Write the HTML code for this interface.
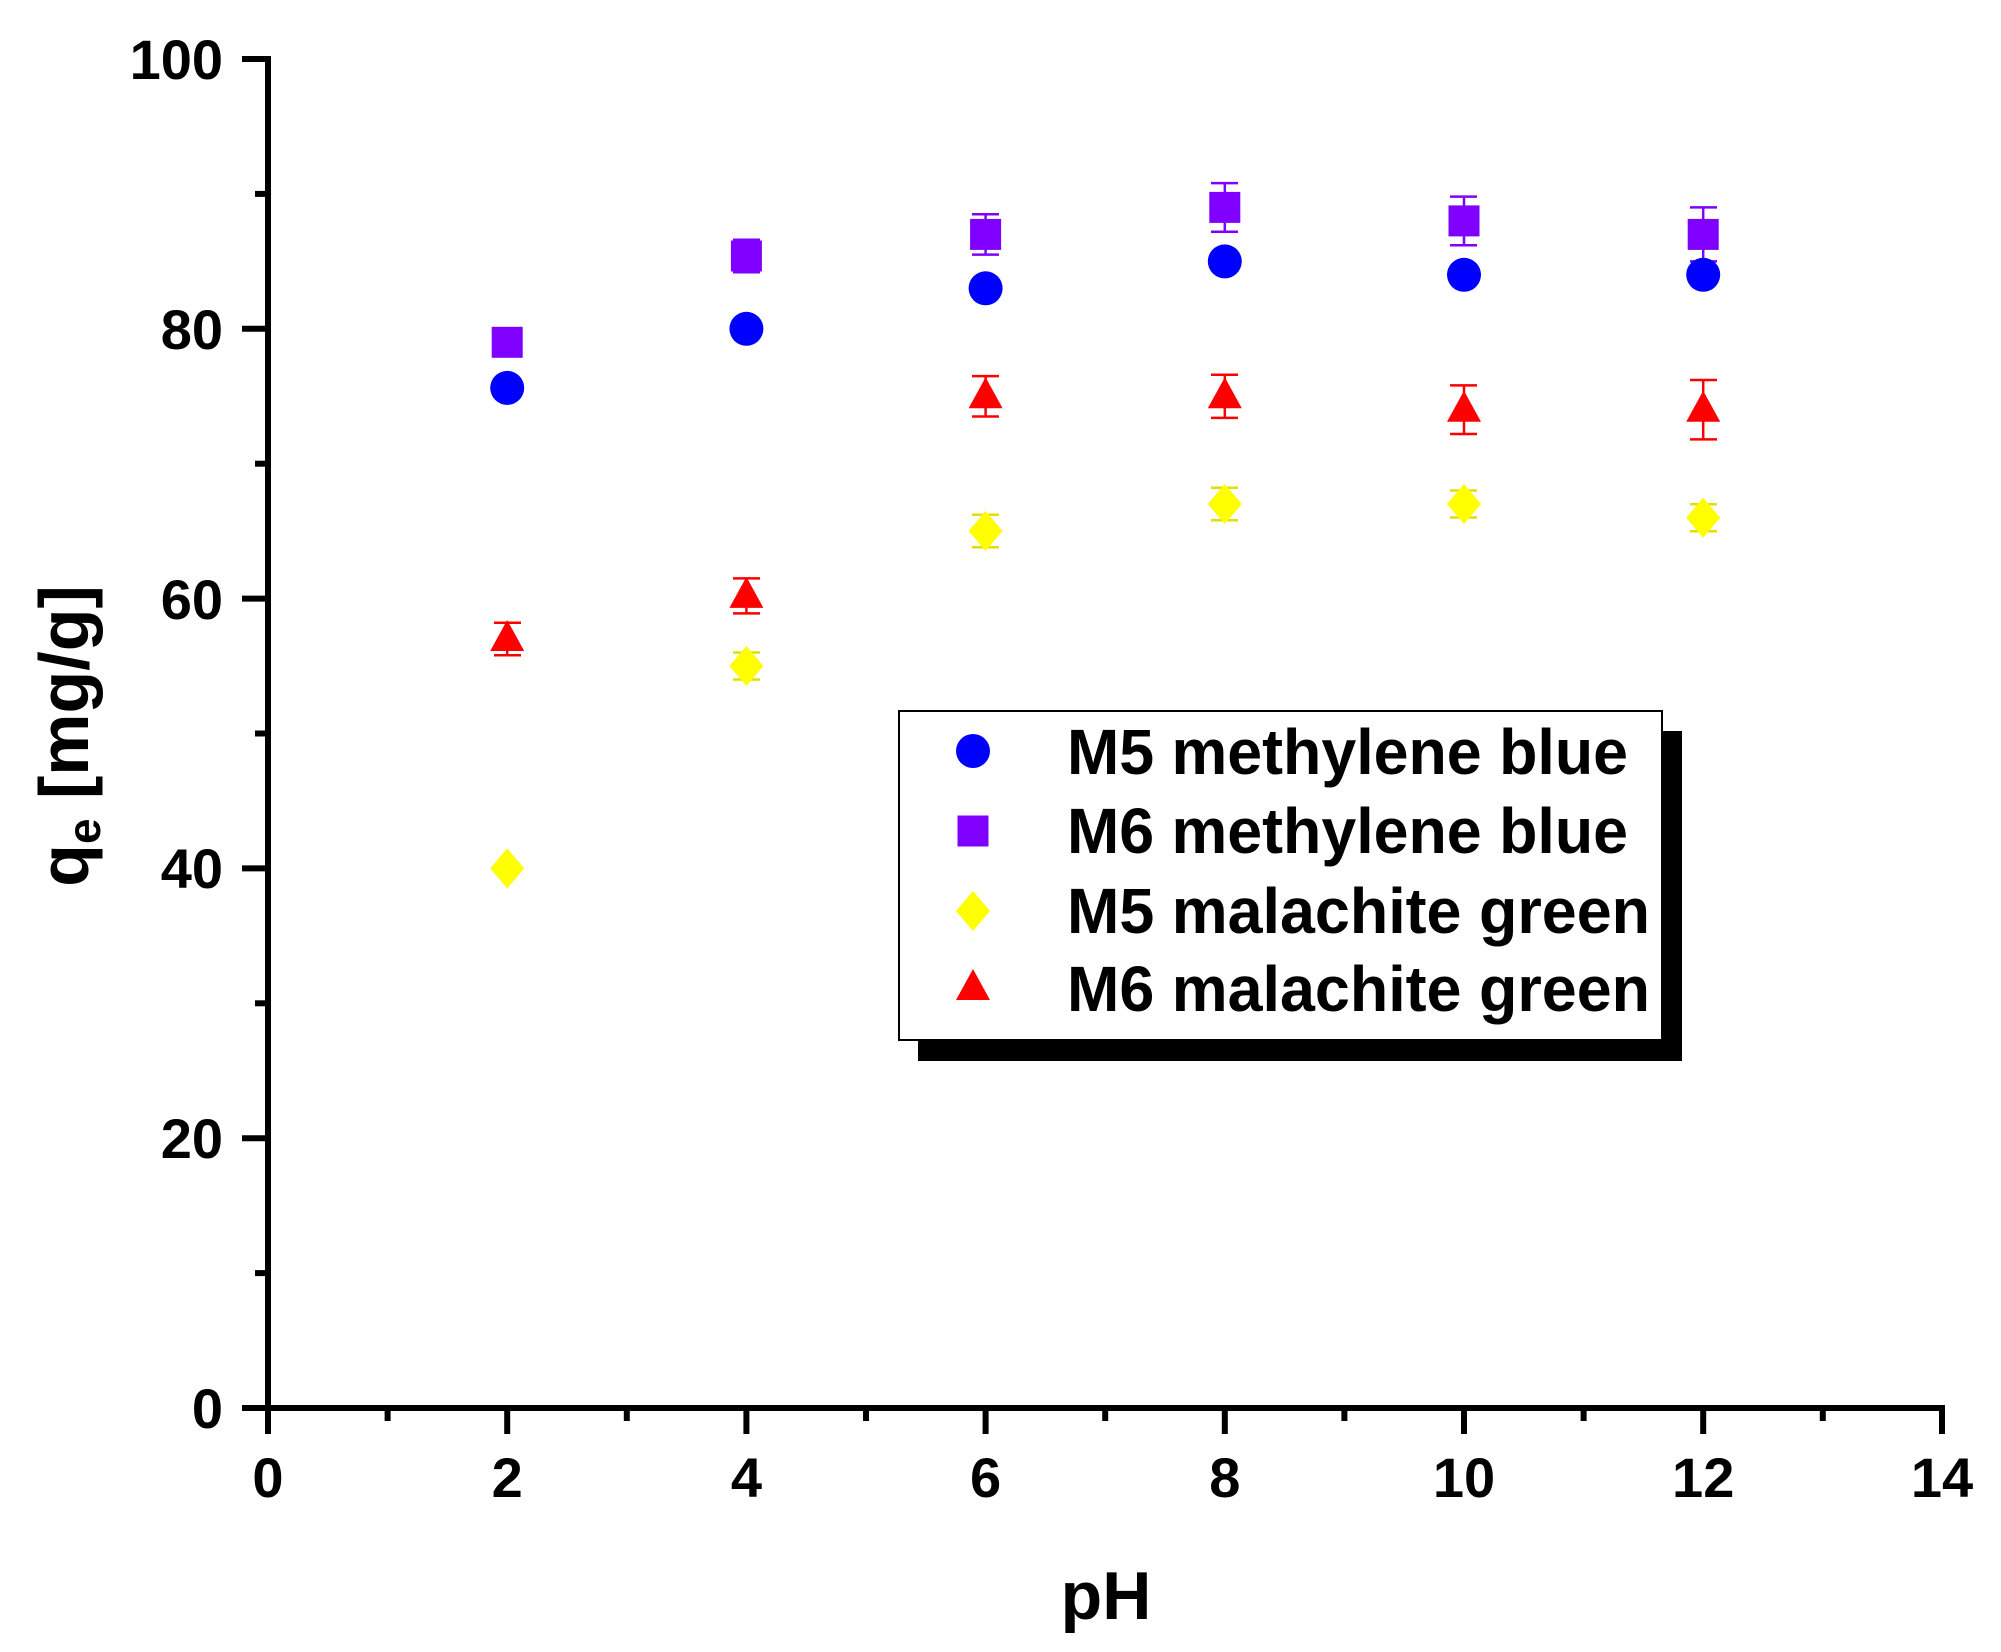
<!DOCTYPE html>
<html><head><meta charset="utf-8"><style>
html,body{margin:0;padding:0;background:#fff;}
svg{display:block;}
text{font-family:"Liberation Sans",Arial,sans-serif;font-weight:bold;fill:#000;}
</style></head><body>
<svg width="2001" height="1652" viewBox="0 0 2001 1652" xmlns="http://www.w3.org/2000/svg">
<defs>
<circle id="c" r="17" fill="#0000FF"/>
<rect id="s" x="-15.5" y="-15.5" width="31" height="31" fill="#8000FF"/>
<polygon id="d" points="0,-20 17,0 0,20 -17,0" fill="#FFFF00"/>
<polygon id="t" points="0,-19 17,12 -17,12" fill="#FF0000"/>
</defs>
<g stroke="#000" stroke-width="6" fill="none">
<line x1="268" y1="56" x2="268" y2="1411"/>
<line x1="265" y1="1408" x2="1945" y2="1408"/>
<line x1="242" y1="59" x2="268" y2="59"/>
<line x1="255" y1="193.9" x2="268" y2="193.9"/>
<line x1="242" y1="328.8" x2="268" y2="328.8"/>
<line x1="255" y1="463.7" x2="268" y2="463.7"/>
<line x1="242" y1="598.6" x2="268" y2="598.6"/>
<line x1="255" y1="733.5" x2="268" y2="733.5"/>
<line x1="242" y1="868.4" x2="268" y2="868.4"/>
<line x1="255" y1="1003.3" x2="268" y2="1003.3"/>
<line x1="242" y1="1138.2" x2="268" y2="1138.2"/>
<line x1="255" y1="1273.1" x2="268" y2="1273.1"/>
<line x1="242" y1="1408" x2="268" y2="1408"/>
<line x1="268" y1="1408" x2="268" y2="1434"/>
<line x1="387.6" y1="1408" x2="387.6" y2="1421"/>
<line x1="507.2" y1="1408" x2="507.2" y2="1434"/>
<line x1="626.8" y1="1408" x2="626.8" y2="1421"/>
<line x1="746.4" y1="1408" x2="746.4" y2="1434"/>
<line x1="866" y1="1408" x2="866" y2="1421"/>
<line x1="985.6" y1="1408" x2="985.6" y2="1434"/>
<line x1="1105.2" y1="1408" x2="1105.2" y2="1421"/>
<line x1="1224.8" y1="1408" x2="1224.8" y2="1434"/>
<line x1="1344.4" y1="1408" x2="1344.4" y2="1421"/>
<line x1="1464" y1="1408" x2="1464" y2="1434"/>
<line x1="1583.6" y1="1408" x2="1583.6" y2="1421"/>
<line x1="1703.2" y1="1408" x2="1703.2" y2="1434"/>
<line x1="1822.8" y1="1408" x2="1822.8" y2="1421"/>
<line x1="1942" y1="1405" x2="1942" y2="1434"/>
</g>
<g font-size="56" text-anchor="end">
<text x="223" y="79">100</text>
<text x="223" y="349">80</text>
<text x="223" y="619">60</text>
<text x="223" y="888">40</text>
<text x="223" y="1158">20</text>
<text x="223" y="1428">0</text>
</g>
<g font-size="56" text-anchor="middle">
<text x="268" y="1497">0</text>
<text x="507.2" y="1497">2</text>
<text x="746.4" y="1497">4</text>
<text x="985.6" y="1497">6</text>
<text x="1224.8" y="1497">8</text>
<text x="1464" y="1497">10</text>
<text x="1703.2" y="1497">12</text>
<text x="1942" y="1497">14</text>
</g>
<text x="1106" y="1619" font-size="68" text-anchor="middle">pH</text>
<text transform="translate(88,736) rotate(-90)" font-size="70" text-anchor="middle">q<tspan font-size="46" dy="12">e</tspan><tspan dy="-12"> [mg/g]</tspan></text>

<g stroke-width="2.5" fill="none">
<g stroke="#8000FF">
<path d="M746.4 239.8V272.2M733 239.8h27M733 272.2h27"/>
<path d="M985.6 214.2V254.6M972 214.2h27M972 254.6h27"/>
<path d="M1224.8 183.1V231.7M1211 183.1h27M1211 231.7h27"/>
<path d="M1464 196.6V245.2M1450 196.6h27M1450 245.2h27"/>
<path d="M1703.2 207.4V261.4M1690 207.4h27M1690 261.4h27"/>
</g>
<g stroke="#FF0000">
<path d="M507.2 622.8V655.2M494 622.8h27M494 655.2h27"/>
<path d="M746.4 578.4V613.4M733 578.4h27M733 613.4h27"/>
<path d="M985.6 376.1V416.5M972 376.1h27M972 416.5h27"/>
<path d="M1224.8 374.7V417.9M1211 374.7h27M1211 417.9h27"/>
<path d="M1464 385.4V434M1450 385.4h27M1450 434h27"/>
<path d="M1703.2 380V439.4M1690 380h27M1690 439.4h27"/>
</g>
<g stroke="#E0E000">
<path d="M746.4 652.5V679.5M733 652.5h27M733 679.5h27"/>
<path d="M985.6 514.8V547.2M972 514.8h27M972 547.2h27"/>
<path d="M1224.8 487.8V520.2M1211 487.8h27M1211 520.2h27"/>
<path d="M1464 490.5V517.5M1450 490.5h27M1450 517.5h27"/>
<path d="M1703.2 504.2V531.2M1690 504.2h27M1690 531.2h27"/>
</g>
</g>
<use href="#c" x="507.2" y="387.9"/><use href="#c" x="746.4" y="328.8"/><use href="#c" x="985.6" y="288.3"/>
<use href="#c" x="1224.8" y="261.4"/><use href="#c" x="1464" y="274.8"/><use href="#c" x="1703.2" y="274.8"/>
<use href="#s" x="507.2" y="342.3"/><use href="#s" x="746.4" y="256"/><use href="#s" x="985.6" y="234.4"/>
<use href="#s" x="1224.8" y="207.4"/><use href="#s" x="1464" y="220.9"/><use href="#s" x="1703.2" y="234.4"/>
<use href="#d" x="507.2" y="868.4"/><use href="#d" x="746.4" y="666"/><use href="#d" x="985.6" y="531"/>
<use href="#d" x="1224.8" y="504"/><use href="#d" x="1464" y="504"/><use href="#d" x="1703.2" y="517.7"/>
<use href="#t" x="507.2" y="639"/><use href="#t" x="746.4" y="595.9"/><use href="#t" x="985.6" y="396.3"/>
<use href="#t" x="1224.8" y="396.3"/><use href="#t" x="1464" y="409.7"/><use href="#t" x="1703.2" y="409.7"/>

<rect x="918" y="731" width="764" height="330" fill="#000"/>
<rect x="899" y="711" width="763" height="329" fill="#fff" stroke="#000" stroke-width="2"/>
<use href="#c" x="973" y="751"/>
<use href="#s" x="973" y="831"/>
<use href="#d" x="973" y="911"/>
<use href="#t" x="973" y="988"/>
<g font-size="64">
<text x="1067" y="774" textLength="561" lengthAdjust="spacingAndGlyphs">M5 methylene blue</text>
<text x="1067" y="853" textLength="561" lengthAdjust="spacingAndGlyphs">M6 methylene blue</text>
<text x="1067" y="933" textLength="583" lengthAdjust="spacingAndGlyphs">M5 malachite green</text>
<text x="1067" y="1011" textLength="583" lengthAdjust="spacingAndGlyphs">M6 malachite green</text>
</g>
</svg>
</body></html>
